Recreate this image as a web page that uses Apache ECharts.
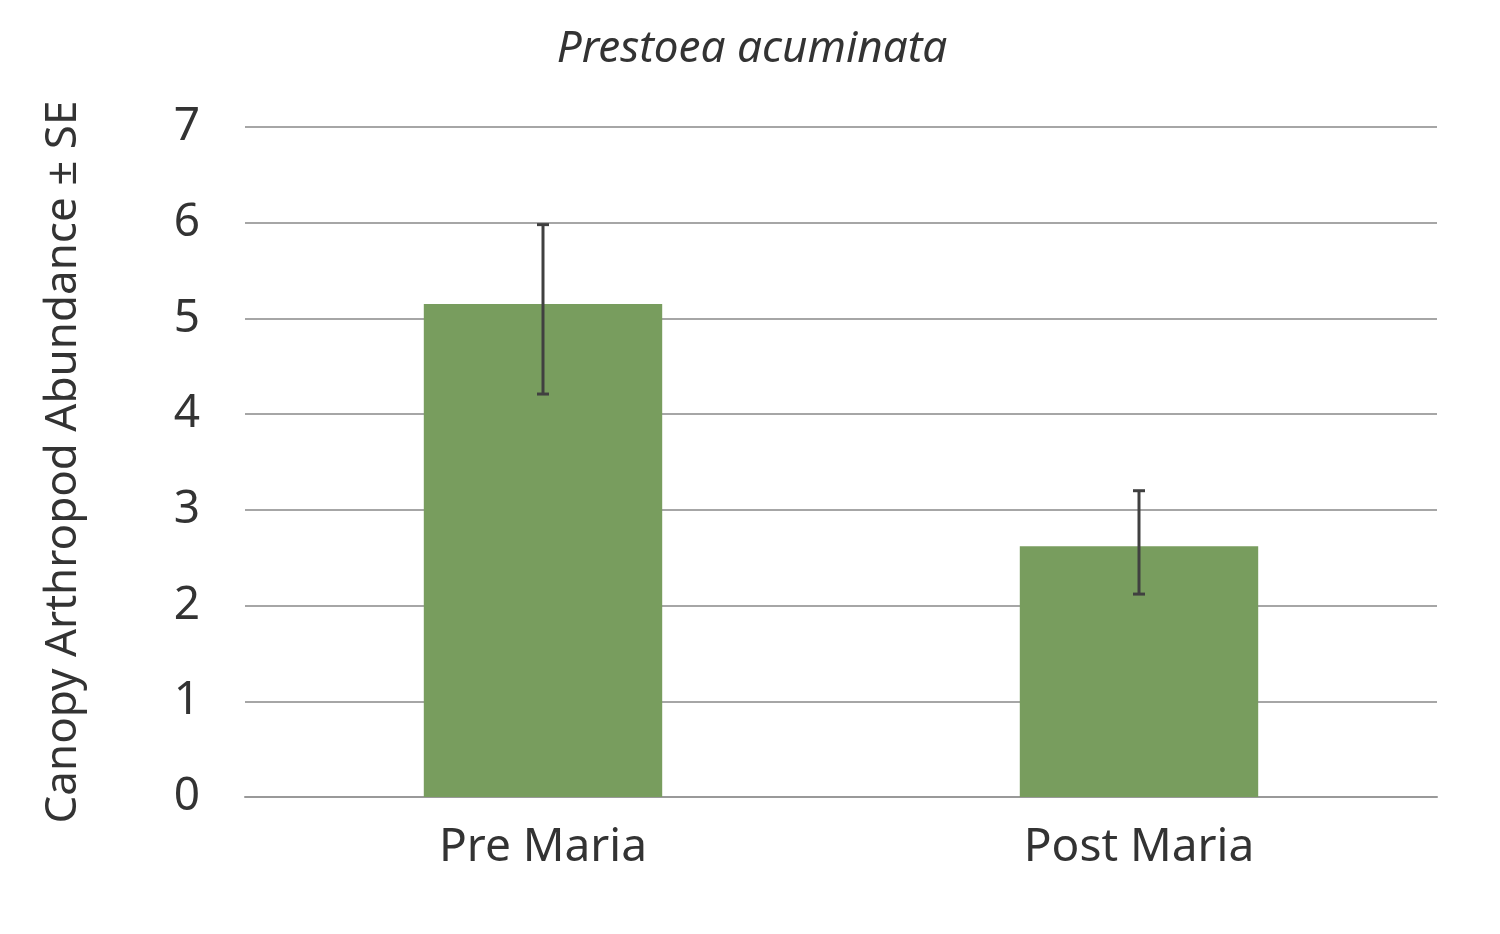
<!DOCTYPE html>
<html><head><meta charset="utf-8">
<script src="https://cdn.jsdelivr.net/npm/echarts@6/dist/echarts.min.js"></script>
<style>html,body{margin:0;padding:0;background:#fff}#c{width:1500px;height:934px}</style>
</head><body><div id="c"></div>
<script>
const categories = ['Pre Maria', 'Post Maria'];
const means = [5.15, 2.62];
const errLow = [4.21, 2.12];
const errHigh = [5.98, 3.20];
const yTicks = [0, 1, 2, 3, 4, 5, 6, 7];

const chart = echarts.init(document.getElementById('c'));
const font = '"Noto Sans", "Open Sans", sans-serif';
chart.setOption({
  animation: false,
  title: { text: 'Prestoea acuminata', left: 747, top: 22, textAlign: 'center',
    textStyle: { fontFamily: font, fontStyle: 'italic', fontWeight: 'normal', fontSize: 44, color: '#333' } },
  grid: { left: 245, right: 63, top: 127, bottom: 137 },
  xAxis: { type: 'category', data: categories,
    axisLine: { lineStyle: { color: '#999', width: 2 } }, axisTick: { show: false },
    axisLabel: { fontFamily: font, fontSize: 46, color: '#333', margin: 28 } },
  yAxis: { type: 'value', min: yTicks[0], max: yTicks[yTicks.length - 1], interval: 1,
    name: 'Canopy Arthropod Abundance ± SE', nameLocation: 'middle', nameGap: 160, nameRotate: 90,
    nameTextStyle: { fontFamily: font, fontSize: 44, color: '#333' },
    axisLine: { show: false }, axisTick: { show: false },
    axisLabel: { fontFamily: font, fontSize: 46, color: '#333', margin: 45 },
    splitLine: { lineStyle: { color: '#a6a6a6', width: 2 } } },
  series: [
    { type: 'bar', data: means, barWidth: '40%', itemStyle: { color: '#789d5e' } },
    { type: 'custom', data: categories.map((c, i) => [i, errLow[i], errHigh[i]]), z: 10,
      renderItem: function (params, api) {
        const lo = api.coord([api.value(0), api.value(1)]);
        const hi = api.coord([api.value(0), api.value(2)]);
        const w = 6;
        const st = { stroke: '#404040', lineWidth: 3 };
        return { type: 'group', children: [
          { type: 'line', shape: { x1: hi[0], y1: hi[1], x2: lo[0], y2: lo[1] }, style: st },
          { type: 'line', shape: { x1: hi[0] - w, y1: hi[1], x2: hi[0] + w, y2: hi[1] }, style: st },
          { type: 'line', shape: { x1: lo[0] - w, y1: lo[1], x2: lo[0] + w, y2: lo[1] }, style: st }
        ] };
      } }
  ]
});
</script></body></html>
